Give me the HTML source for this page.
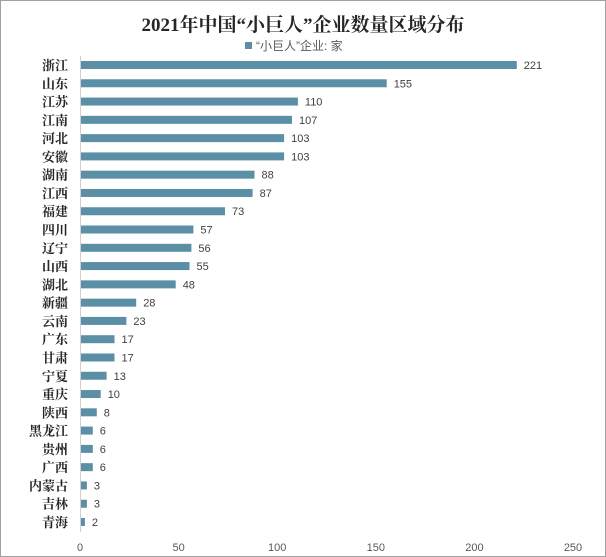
<!DOCTYPE html>
<html><head><meta charset="utf-8"><style>
html,body{margin:0;padding:0;background:#fff}
svg{display:block}
.l{font-family:"Liberation Serif","Noto Serif CJK SC",serif;font-weight:bold;font-size:13px;fill:#262626;text-anchor:end}
.v{font-family:"Liberation Sans",sans-serif;font-size:11px;fill:#404040}
</style></head><body>
<svg width="606" height="557" xmlns="http://www.w3.org/2000/svg">
<rect x="0.5" y="0.5" width="605" height="556" fill="#fff" stroke="#a0a0a0"/>
<text x="303" y="31" text-anchor="middle" font-family="'Liberation Serif','Noto Serif CJK SC',serif" font-weight="bold" font-size="19" fill="#262626">2021年中国“小巨人”企业数量区域分布</text>
<rect x="245" y="42" width="7" height="7" fill="#5b8fa6"/>
<text x="256" y="50" font-family="'Liberation Sans','Noto Sans CJK SC',sans-serif" font-size="12" fill="#595959">“小巨人”企业: 家</text>
<line x1="80.5" y1="56" x2="80.5" y2="532" stroke="#d0d0d0"/>
<g fill="#5b8fa6">
<g transform="translate(0,65)"><text class="l" x="68" y="5">浙江</text><rect x="81" y="-4" width="435.8" height="8"/><text class="v" x="523.8" y="4">221</text></g>
<g transform="translate(0,83.28)"><text class="l" x="68" y="5">山东</text><rect x="81" y="-4" width="305.7" height="8"/><text class="v" x="393.7" y="4">155</text></g>
<g transform="translate(0,101.56)"><text class="l" x="68" y="5">江苏</text><rect x="81" y="-4" width="216.9" height="8"/><text class="v" x="304.9" y="4">110</text></g>
<g transform="translate(0,119.84)"><text class="l" x="68" y="5">江南</text><rect x="81" y="-4" width="211" height="8"/><text class="v" x="299" y="4">107</text></g>
<g transform="translate(0,138.12)"><text class="l" x="68" y="5">河北</text><rect x="81" y="-4" width="203.1" height="8"/><text class="v" x="291.1" y="4">103</text></g>
<g transform="translate(0,156.4)"><text class="l" x="68" y="5">安徽</text><rect x="81" y="-4" width="203.1" height="8"/><text class="v" x="291.1" y="4">103</text></g>
<g transform="translate(0,174.68)"><text class="l" x="68" y="5">湖南</text><rect x="81" y="-4" width="173.5" height="8"/><text class="v" x="261.5" y="4">88</text></g>
<g transform="translate(0,192.96)"><text class="l" x="68" y="5">江西</text><rect x="81" y="-4" width="171.6" height="8"/><text class="v" x="259.6" y="4">87</text></g>
<g transform="translate(0,211.24)"><text class="l" x="68" y="5">福建</text><rect x="81" y="-4" width="144" height="8"/><text class="v" x="232" y="4">73</text></g>
<g transform="translate(0,229.52)"><text class="l" x="68" y="5">四川</text><rect x="81" y="-4" width="112.4" height="8"/><text class="v" x="200.4" y="4">57</text></g>
<g transform="translate(0,247.8)"><text class="l" x="68" y="5">辽宁</text><rect x="81" y="-4" width="110.4" height="8"/><text class="v" x="198.4" y="4">56</text></g>
<g transform="translate(0,266.08)"><text class="l" x="68" y="5">山西</text><rect x="81" y="-4" width="108.5" height="8"/><text class="v" x="196.5" y="4">55</text></g>
<g transform="translate(0,284.36)"><text class="l" x="68" y="5">湖北</text><rect x="81" y="-4" width="94.7" height="8"/><text class="v" x="182.7" y="4">48</text></g>
<g transform="translate(0,302.64)"><text class="l" x="68" y="5">新疆</text><rect x="81" y="-4" width="55.2" height="8"/><text class="v" x="143.2" y="4">28</text></g>
<g transform="translate(0,320.92)"><text class="l" x="68" y="5">云南</text><rect x="81" y="-4" width="45.4" height="8"/><text class="v" x="133.4" y="4">23</text></g>
<g transform="translate(0,339.2)"><text class="l" x="68" y="5">广东</text><rect x="81" y="-4" width="33.5" height="8"/><text class="v" x="121.5" y="4">17</text></g>
<g transform="translate(0,357.48)"><text class="l" x="68" y="5">甘肃</text><rect x="81" y="-4" width="33.5" height="8"/><text class="v" x="121.5" y="4">17</text></g>
<g transform="translate(0,375.76)"><text class="l" x="68" y="5">宁夏</text><rect x="81" y="-4" width="25.6" height="8"/><text class="v" x="113.6" y="4">13</text></g>
<g transform="translate(0,394.04)"><text class="l" x="68" y="5">重庆</text><rect x="81" y="-4" width="19.7" height="8"/><text class="v" x="107.7" y="4">10</text></g>
<g transform="translate(0,412.32)"><text class="l" x="68" y="5">陕西</text><rect x="81" y="-4" width="15.8" height="8"/><text class="v" x="103.8" y="4">8</text></g>
<g transform="translate(0,430.6)"><text class="l" x="68" y="5">黑龙江</text><rect x="81" y="-4" width="11.8" height="8"/><text class="v" x="99.8" y="4">6</text></g>
<g transform="translate(0,448.88)"><text class="l" x="68" y="5">贵州</text><rect x="81" y="-4" width="11.8" height="8"/><text class="v" x="99.8" y="4">6</text></g>
<g transform="translate(0,467.16)"><text class="l" x="68" y="5">广西</text><rect x="81" y="-4" width="11.8" height="8"/><text class="v" x="99.8" y="4">6</text></g>
<g transform="translate(0,485.44)"><text class="l" x="68" y="5">内蒙古</text><rect x="81" y="-4" width="5.9" height="8"/><text class="v" x="93.9" y="4">3</text></g>
<g transform="translate(0,503.72)"><text class="l" x="68" y="5">吉林</text><rect x="81" y="-4" width="5.9" height="8"/><text class="v" x="93.9" y="4">3</text></g>
<g transform="translate(0,522)"><text class="l" x="68" y="5">青海</text><rect x="81" y="-4" width="3.9" height="8"/><text class="v" x="91.9" y="4">2</text></g>
</g>
<g font-family="'Liberation Sans',sans-serif" font-size="11" fill="#595959" text-anchor="middle">
<text x="80" y="551">0</text><text x="178.6" y="551">50</text><text x="277.2" y="551">100</text><text x="375.8" y="551">150</text><text x="474.4" y="551">200</text><text x="573" y="551">250</text>
</g>
</svg>
</body></html>
